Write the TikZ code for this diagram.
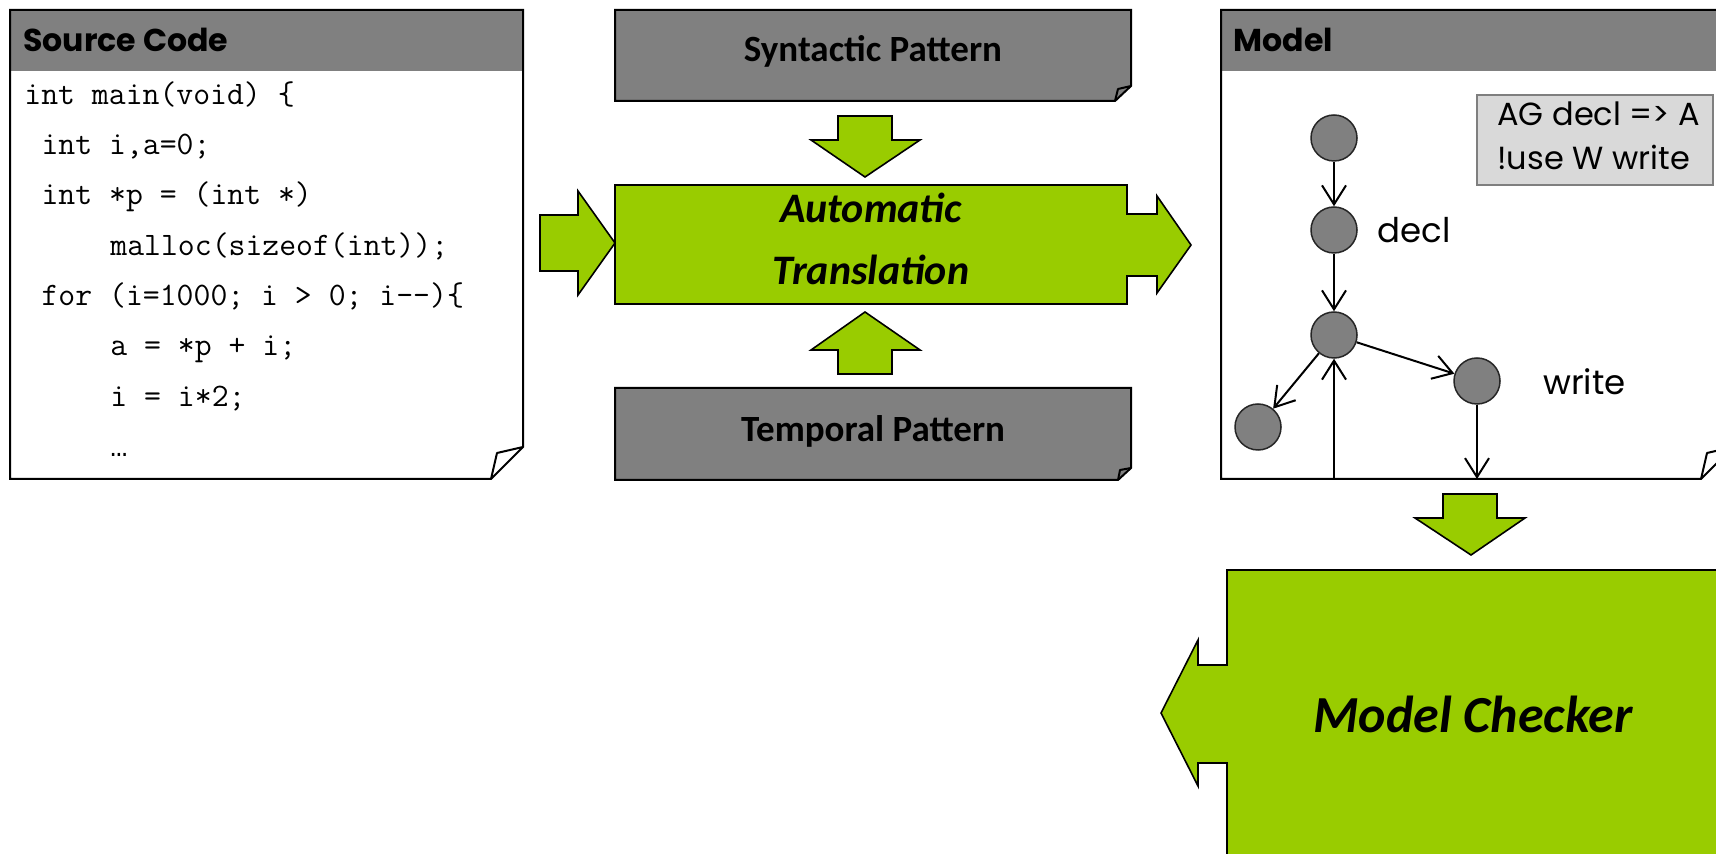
\documentclass[tikz,border=0pt]{standalone}
\usepackage{fontspec}
\setmainfont{Poppins}
\newfontfamily\calfont{Carlito}
\newfontfamily\dotsfont{Liberation Mono}
\usetikzlibrary{arrows.meta}
\definecolor{lime}{HTML}{99CC00}
\definecolor{hdr}{HTML}{808080}
\definecolor{formulafill}{HTML}{D9D9D9}
\definecolor{formulaedge}{HTML}{7F7F7F}
\tikzset{
  outline/.style={draw=black, line width=1pt, line join=miter},
  flap/.style={draw=black, line width=1pt, line join=round},
  block/.style={draw=black, line width=0.8pt, fill=lime, line join=miter},
  title/.style={anchor=base west, inner sep=0, font=\bfseries\fontsize{15.8}{20}\selectfont},
  code/.style={anchor=base west, inner sep=0, font=\ttfamily\fontsize{16.4}{19}\selectfont},
  patterntext/.style={anchor=base, inner sep=0, font=\calfont\bfseries\fontsize{18.5}{22}\selectfont},
  steptext/.style={anchor=base, inner sep=0, font=\calfont\bfseries\itshape\fontsize{21}{25}\selectfont},
  checkertext/.style={anchor=base, inner sep=0, font=\calfont\bfseries\itshape\fontsize{26}{30}\selectfont},
  state/.style={circle, draw=black!85, fill=hdr, line width=0.75pt, minimum size=23pt, inner sep=0},
  trans/.style={line width=1pt, -{Straight Barb[length=9.5pt,width=12pt]}},
  lbl/.style={anchor=base west, inner sep=0, font=\fontsize{17}{20}\selectfont},
  formulatext/.style={anchor=base west, inner sep=0, font=\fontsize{16}{20}\selectfont},
}
\begin{document}
\begin{tikzpicture}[x=0.5pt,y=-0.5pt]
\useasboundingbox (0,0) rectangle (1716,854);
\clip (0,0) rectangle (1716,854);

% ---------- source code sheet ----------
\fill[white] (10,10) -- (523,10) -- (523,447) -- (491,479) -- (10,479) -- cycle;
\fill[hdr] (10,10) rectangle (523,71);
\draw[outline] (10,10) -- (523,10) -- (523,447) -- (491,479) -- (10,479) -- cycle;
\draw[flap] (491,479) -- (497,453) -- (523,447);
\node[title] (srctitle) at (23,52) {Source Code};
\node[code] (c1) at (24,105) {int main(void) \{};
\node[code] (c2) at (41.2,155) {int i,a=0;};
\node[code] (c3) at (41.2,205) {int *p = (int *)};
\node[code] (c4) at (110,256) {malloc(sizeof(int));};
\node[code] (c5) at (41.2,306) {for (i=1000; i > 0; i{-}{-})\{};
\node[code] (c6) at (110,356) {a = *p + i;};
\node[code] (c7) at (110,407) {i = i*2;};
\node[code, font=\dotsfont\fontsize{14.33}{17}\selectfont] (c8) at (110,457) {…};

% ---------- pattern sheets ----------
\draw[outline, fill=hdr] (615,10) -- (1131,10) -- (1131,86) -- (1115,101) -- (615,101) -- cycle;
\draw[flap] (1115,101) -- (1118,89) -- (1131,86);
\node[patterntext] (syn) at (873,62) {Syntactic Pattern};

\draw[outline, fill=hdr] (615,388) -- (1131,388) -- (1131,468) -- (1118,480) -- (615,480) -- cycle;
\draw[flap] (1118,480) -- (1120,470) -- (1131,468);
\node[patterntext] (tmp) at (873,442) {Temporal Pattern};

% ---------- translation step ----------
\draw[block] (838,116) -- (892,116) -- (892,140) -- (920,140) -- (865,177) -- (811,140) -- (838,140) -- cycle;
\draw[block] (838,374) -- (892,374) -- (892,350) -- (920,350) -- (865,312) -- (811,350) -- (838,350) -- cycle;
\draw[block] (540,215) -- (578,215) -- (578,191) -- (615,243) -- (578,295) -- (578,271) -- (540,271) -- cycle;
\draw[block] (615,185) -- (1127,185) -- (1127,214) -- (1157,214) -- (1157,196) -- (1191,245)
  -- (1157,293) -- (1157,276) -- (1127,276) -- (1127,304) -- (615,304) -- cycle;
\node[steptext] (auto1) at (871,223) {Automatic};
\node[steptext] (auto2) at (871,285) {Translation};

% ---------- model sheet ----------
\fill[white] (1221,10) -- (1733,10) -- (1733,447) -- (1701,479) -- (1221,479) -- cycle;
\fill[hdr] (1221,10) rectangle (1733,71);
\draw[outline] (1221,10) -- (1733,10) -- (1733,447) -- (1701,479) -- (1221,479) -- cycle;
\draw[flap] (1701,479) -- (1707,453) -- (1733,447);
\node[title] (modeltitle) at (1233,52) {Model};

\draw[draw=formulaedge, fill=formulafill, line width=0.75pt] (1477,95) rectangle (1713,185);
\node[formulatext] (f1) at (1497,126) {AG decl => A};
\node[formulatext] (f2) at (1497,170) {!use W write};

\node[state] (n1) at (1334,138) {};
\node[state] (n2) at (1334,230) {};
\node[state] (n3) at (1334,335) {};
\node[state] (n4) at (1477,381) {};
\node[state] (n5) at (1258,427) {};
\node[lbl] (ldecl) at (1377,243) {decl};
\node[lbl] (lwrite) at (1543,395) {write};
\coordinate (entry) at (1334,479);
\coordinate (exit) at (1477,479);
\draw[trans] (n1) -- (n2);
\draw[trans] (n2) -- (n3);
\draw[trans] (n3) -- (n4);
\draw[trans] (n3) -- (n5);
\draw[trans] (entry) -- (n3);
\draw[trans] (n4) -- (exit);

% ---------- model checker ----------
\draw[block] (1443,494) -- (1497,494) -- (1497,518) -- (1525,518) -- (1471,555) -- (1415,518) -- (1443,518) -- cycle;
\draw[block] (1227,570) -- (1760,570) -- (1760,900) -- (1227,900) -- (1227,763) -- (1198,763) -- (1198,786)
  -- (1161,713) -- (1198,640) -- (1198,665) -- (1227,665) -- cycle;
\node[checkertext] (checker) at (1473,732) {Model Checker};
\end{tikzpicture}
\end{document}
